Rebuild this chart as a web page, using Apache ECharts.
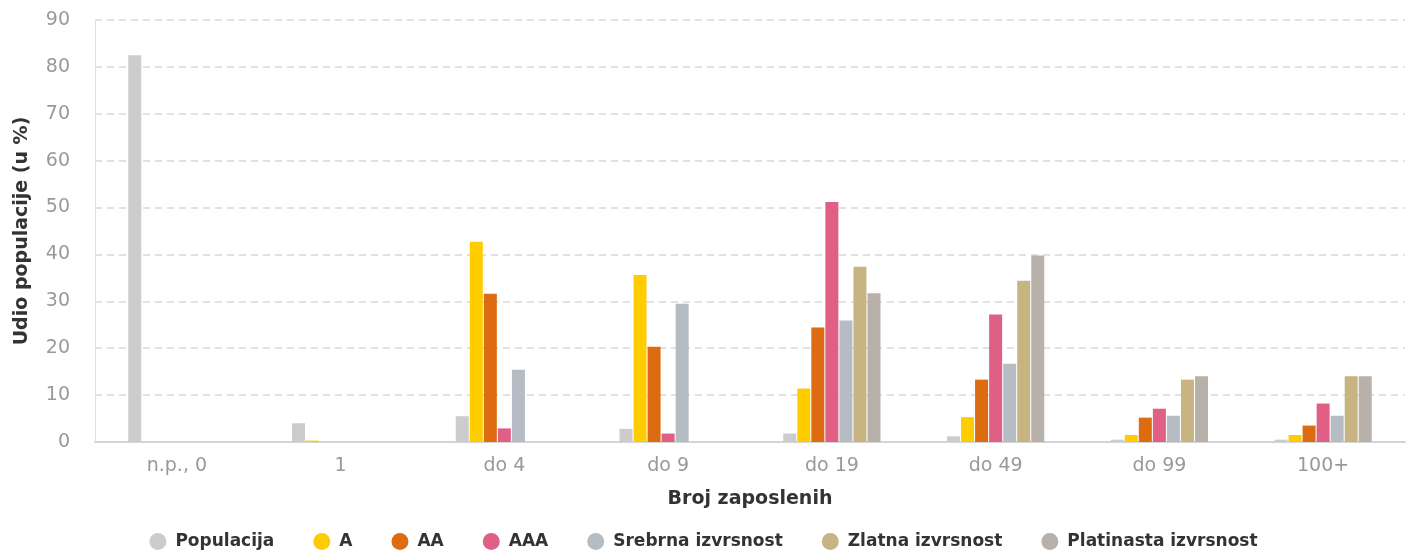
<!DOCTYPE html>
<html>
<head>
<meta charset="utf-8">
<script src="https://cdn.jsdelivr.net/npm/echarts@6/dist/echarts.min.js"></script>
<style>
  html, body { margin: 0; padding: 0; background: #fff; }
  #chart { width: 1407px; height: 550px; }
</style>
</head>
<body>
<div id="chart"></div>
<script>
  // kategorije (broj zaposlenih)
  const categories = ['n.p., 0', '1', 'do 4', 'do 9', 'do 19', 'do 49', 'do 99', '100+']
  const yTicks = [0, 10, 20, 30, 40, 50, 60, 70, 80, 90]

  // udio populacije u %
  const populacija = [82.5, 4, 5.5, 2.8, 1.8, 1.2, 0.5, 0.5]
  const razinaA = [0, 0.3, 42.7, 35.6, 11.4, 5.3, 1.5, 1.5]
  const razinaAA = [0, 0, 31.6, 20.3, 24.4, 13.3, 5.2, 3.5]
  const razinaAAA = [0, 0, 2.9, 1.8, 51.2, 27.2, 7.1, 8.2]
  const srebrna = [0, 0, 15.4, 29.5, 25.9, 16.7, 5.6, 5.6]
  const zlatna = [0, 0, 0, 0, 37.4, 34.4, 13.3, 14.0]
  const platinasta = [0, 0, 0, 0, 31.7, 39.8, 14.0, 14.0]

  const seriesNames = ['Populacija', 'A', 'AA', 'AAA', 'Srebrna izvrsnost', 'Zlatna izvrsnost', 'Platinasta izvrsnost']
  const seriesData = [populacija, razinaA, razinaAA, razinaAAA, srebrna, zlatna, platinasta]
  const colors = ['#cccccc', '#ffcc00', '#dd6b12', '#df5f85', '#b6bcc4', '#c8b482', '#b7b1aa']

  const font = 'DejaVu Sans'
  let chart = echarts.init(document.getElementById('chart'))

  chart.setOption({
    animation: false,
    color: colors,
    textStyle: { fontFamily: font },
    grid: { left: 95, right: 2, top: 20, bottom: 108, outerBoundsMode: 'none' },
    legend: {
      bottom: -5,
      itemGap: 39,
      icon: 'circle',
      itemWidth: 17,
      itemHeight: 17,
      textStyle: { color: '#333', fontSize: 17, fontWeight: 'bold', fontFamily: font, padding: [0, 0, 0, 4] },
      data: seriesNames
    },
    xAxis: {
      type: 'category',
      data: categories,
      name: 'Broj zaposlenih',
      nameLocation: 'middle',
      nameGap: 48,
      nameTextStyle: { color: '#333', fontSize: 19, fontWeight: 'bold' },
      axisLine: { lineStyle: { color: '#d4d4d4', width: 2 } },
      axisTick: { show: false },
      axisLabel: { color: '#999', fontSize: 19, margin: 15 }
    },
    yAxis: {
      type: 'value',
      min: yTicks[0],
      max: yTicks[yTicks.length - 1],
      interval: 10,
      name: 'Udio populacije (u %)',
      nameLocation: 'middle',
      nameGap: 63,
      nameTextStyle: { color: '#333', fontSize: 19, fontWeight: 'bold' },
      axisLine: { show: true, lineStyle: { color: '#e0e0e0', width: 1 } },
      axisTick: { show: false },
      axisLabel: { color: '#999', fontSize: 19, margin: 25 },
      splitLine: { lineStyle: { color: '#d8d8d8', type: [7, 5], width: 1.5 } }
    },
    series: seriesNames.map((n, i) => ({
      name: n,
      type: 'bar',
      barWidth: 13,
      barGap: '8%',
      data: seriesData[i]
    }))
  })
</script>
</body>
</html>
